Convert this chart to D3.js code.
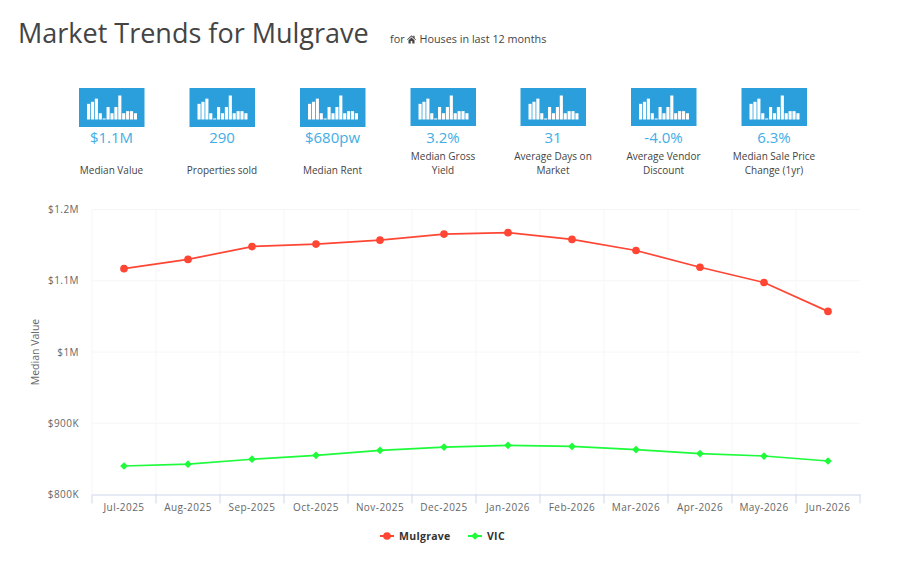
<!DOCTYPE html>
<html>
<head>
<meta charset="utf-8">
<script src="https://cdn.jsdelivr.net/npm/d3@7"></script>
<style>
  html, body { margin: 0; padding: 0; background: #fff; }
  svg { display: block; font-family: "Open Sans", sans-serif; }
  .x-axis text, .y-axis text { font-family: "Open Sans", sans-serif; font-size: 10px; fill: #666; letter-spacing: 0.45px; }
</style>
</head>
<body>
<div id="chart"></div>
<script>
const months = ["Jul-2025", "Aug-2025", "Sep-2025", "Oct-2025", "Nov-2025", "Dec-2025",
  "Jan-2026", "Feb-2026", "Mar-2026", "Apr-2026", "May-2026", "Jun-2026"];
const mulgrave = [1117, 1130, 1148, 1151.5, 1157, 1165.5, 1167.5, 1158, 1142.5, 1119, 1097.5, 1057];
const vic = [840, 842.5, 849.5, 855, 862, 866.5, 869, 867.5, 863, 857.5, 854, 847];
const yTicks = [800, 900, 1000, 1100, 1200];
const yTickLabels = ["$800K", "$900K", "$1M", "$1.1M", "$1.2M"];

const statValues = ["$1.1M", "290", "$680pw", "3.2%", "31", "-4.0%", "6.3%"];
const statLabels = [["Median Value"], ["Properties sold"], ["Median Rent"], ["Median Gross", "Yield"],
  ["Average Days on", "Market"], ["Average Vendor", "Discount"], ["Median Sale Price", "Change (1yr)"]];
const statCentres = [111.5, 222, 332.5, 443, 553, 663.5, 774];
const iconBars = [15, 17, 20, 6, 1, 12, 6, 12, 23, 6, 8, 8, 6];

const width = 905, height = 565;

const svg = d3.select("#chart").append("svg")
    .attr("width", width)
    .attr("height", height)
    .attr("viewBox", [0, 0, width, height]);

// page heading
svg.append("text")
    .attr("x", 18).attr("y", 43)
    .attr("font-size", 27).attr("fill", "#444")
    .text("Market Trends for Mulgrave");

svg.append("text")
    .attr("x", 390).attr("y", 43)
    .attr("font-size", 10.8).attr("fill", "#444")
    .text("for");

// little house glyph
svg.append("path")
    .attr("transform", "translate(407,35)")
    .attr("fill", "#444")
    .attr("d", "M0 4.5 L4.5 0.3 L6.3 2 V0.8 H7.6 V3.2 L9 4.5 L8.4 5.1 L4.5 1.5 L0.6 5.1 Z M1.5 5.2 L4.5 2.5 L7.5 5.2 V8.6 H5.3 V6 H3.7 V8.6 H1.5 Z");

svg.append("text")
    .attr("x", 419.5).attr("y", 43)
    .attr("font-size", 10.8).attr("fill", "#444")
    .text("Houses in last 12 months");

// stat tiles
const iconX = d3.scaleBand().domain(d3.range(iconBars.length)).range([-24.5, 25.5]).paddingInner(0.2);
const iconH = d3.scaleLinear().domain([0, 23]).range([0, 24]);

const stat = svg.append("g").selectAll("g")
  .data(statValues)
  .join("g")
    .attr("transform", (d, i) => `translate(${statCentres[i]},0)`);

stat.append("rect")
    .attr("x", -32.5).attr("y", 88)
    .attr("width", 65.5).attr("height", (d, i) => i < 3 ? 39 : 38)
    .attr("fill", "#2a9fdb");

stat.selectAll("rect.bar")
  .data(iconBars)
  .join("rect")
    .attr("class", "bar")
    .attr("x", (d, i) => iconX(i))
    .attr("width", iconX.bandwidth())
    .attr("y", d => 119.5 - iconH(d))
    .attr("height", d => iconH(d))
    .attr("fill", "#fff");

stat.append("text")
    .attr("text-anchor", "middle")
    .attr("y", 142.5)
    .attr("font-size", 15)
    .attr("fill", "#41aee6")
    .text(d => d);

stat.each(function(d, i) {
  const lines = statLabels[i];
  d3.select(this).selectAll("text.lab")
    .data(lines)
    .join("text")
      .attr("class", "lab")
      .attr("text-anchor", "middle")
      .attr("y", (l, k) => lines.length === 1 ? 173.5 : 159.5 + k * 14)
      .attr("font-size", 10)
      .attr("fill", "#444")
      .text(l => l);
});

// main chart
const margin = {left: 92, right: 45, top: 209.5, bottom: 70.5};
const x = d3.scaleBand().domain(months).range([margin.left, width - margin.right]);
const y = d3.scaleLinear().domain([800, 1200]).range([height - margin.bottom, margin.top]);

// faint grid
svg.append("g")
    .attr("stroke", "#f6f6f6")
    .selectAll("line")
    .data(yTicks.slice(1))
    .join("line")
    .attr("x1", margin.left).attr("x2", width - margin.right)
    .attr("y1", d => y(d)).attr("y2", d => y(d));

svg.append("g")
    .attr("stroke", "#f6f6f6")
    .selectAll("line")
    .data(months)
    .join("line")
    .attr("x1", d => x(d)).attr("x2", d => x(d))
    .attr("y1", margin.top).attr("y2", y(800));

const xAxis = svg.append("g")
    .attr("class", "x-axis")
    .attr("transform", `translate(0,${y(800)})`)
    .call(d3.axisBottom(x).tickSize(0).tickPadding(9));
xAxis.select(".domain").attr("stroke", "#ccd6eb").attr("stroke-width", 1);

xAxis.selectAll("line.tk")
  .data(months.concat("end"))
  .join("line")
    .attr("class", "tk")
    .attr("x1", d => d === "end" ? x.range()[1] : x(d))
    .attr("x2", d => d === "end" ? x.range()[1] : x(d))
    .attr("y1", 0).attr("y2", 9)
    .attr("stroke", "#ccd6eb");

const yAxis = svg.append("g")
    .attr("class", "y-axis")
    .attr("transform", `translate(${margin.left},0)`)
    .call(d3.axisLeft(y).tickValues(yTicks).tickSize(0).tickPadding(13)
      .tickFormat((d, i) => yTickLabels[i]));
yAxis.select(".domain").remove();

svg.append("text")
    .attr("transform", `translate(39,${y(1000)}) rotate(-90)`)
    .attr("text-anchor", "middle")
    .attr("font-size", 10.5)
    .attr("fill", "#666")
    .text("Median Value");

const line = d3.line()
    .x((d, i) => x(months[i]) + x.bandwidth() / 2)
    .y(d => y(d));

svg.append("path")
    .datum(mulgrave)
    .attr("fill", "none").attr("stroke", "#ff4533").attr("stroke-width", 1.7)
    .attr("d", line);

svg.append("path")
    .datum(vic)
    .attr("fill", "none").attr("stroke", "#1dfb3a").attr("stroke-width", 1.7)
    .attr("d", line);

const circle = d3.symbol().type(d3.symbolCircle).size(46);
const diamond = d3.symbol().type(d3.symbolDiamond2).size(38);

svg.append("g").selectAll("path")
  .data(mulgrave)
  .join("path")
    .attr("transform", (d, i) => `translate(${x(months[i]) + x.bandwidth() / 2},${y(d)})`)
    .attr("fill", "#ff4533")
    .attr("d", circle);

svg.append("g").selectAll("path")
  .data(vic)
  .join("path")
    .attr("transform", (d, i) => `translate(${x(months[i]) + x.bandwidth() / 2},${y(d)})`)
    .attr("fill", "#1dfb3a")
    .attr("d", diamond);

// legend
const legend = svg.append("g").selectAll("g")
  .data([
    {name: "Mulgrave", colour: "#ff4533", symbol: circle, at: 380},
    {name: "VIC", colour: "#1dfb3a", symbol: diamond, at: 468}
  ])
  .join("g")
    .attr("transform", d => `translate(${d.at},536)`);

legend.append("line")
    .attr("x1", 0).attr("x2", 14)
    .attr("stroke", d => d.colour).attr("stroke-width", 2);

legend.append("path")
    .attr("transform", "translate(7,0)")
    .attr("fill", d => d.colour)
    .attr("d", d => d.symbol());

legend.append("text")
    .attr("x", 19).attr("y", 4)
    .attr("font-size", 10.5).attr("font-weight", 700)
    .attr("fill", "#333").attr("letter-spacing", 0.3)
    .text(d => d.name);
</script>
</body>
</html>
